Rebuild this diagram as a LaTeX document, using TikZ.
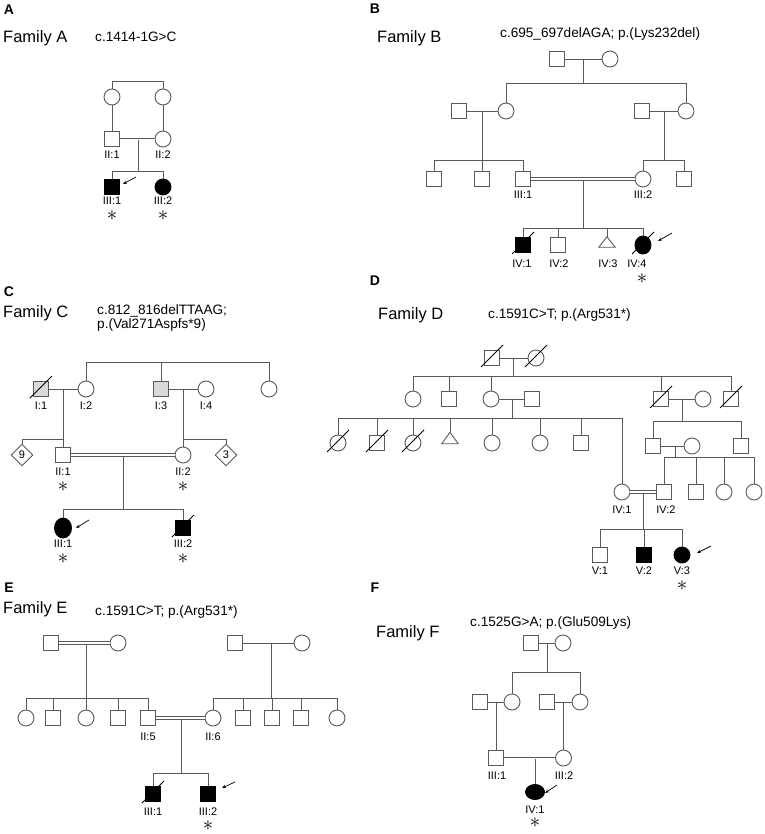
\documentclass[tikz,border=0pt]{standalone}
\usepackage{fontspec}
\setmainfont{Liberation Sans}
\usetikzlibrary{arrows.meta,shapes.geometric}
\definecolor{lc}{gray}{0.35}
\definecolor{gf}{gray}{0.85}
\newcommand{\famfont}{\fontsize{16.5}{18}\selectfont}
\newcommand{\mutfont}{\fontsize{13.6}{15}\selectfont}
\newcommand{\labfont}{\fontsize{11}{12}\selectfont}
\newcommand{\plfont}{\fontsize{14}{15}\selectfont\bfseries}
\newcommand{\astfont}{\fontsize{20}{20}\selectfont}
\newcommand{\sib}[3]{\draw[ln] (#2.north) -- (#2.north |- #1) -- (#3.north |- #1) -- (#3.north);}
\newcommand{\drp}[2]{\draw[ln] (#2.north) -- (#2.north |- #1);}
\newcommand{\dead}[1]{\draw[dl] ([shift={(-11,9)}]#1.center) -- ([shift={(11,-13)}]#1.center);}
\newcommand{\prb}[3]{\draw[arr] ([shift={(#2)}]#1.center) -- ([shift={(#3)}]#1.center);}
\newcommand{\tridraw}[1]{\draw[ln,fill=white] (#1.south west) -- (#1.north) -- (#1.south east) -- cycle;}
\begin{document}
\begin{tikzpicture}[x=1pt,y=-1pt,
  ln/.style={draw=lc, line width=0.9pt},
  dl/.style={draw=black, line width=0.9pt},
  dbl/.style={draw=lc, line width=0.8pt, double=white, double distance=1.8pt},
  dbltwo/.style={draw=lc, line width=0.7pt, double=white, double distance=0.8pt},
  sq/.style={rectangle, draw=lc, line width=0.9pt, minimum size=15pt, inner sep=0pt, fill=white},
  ci/.style={circle, draw=lc, line width=0.9pt, minimum size=16pt, inner sep=0pt, fill=white},
  el/.style={ellipse, draw=lc, line width=0.9pt, inner sep=0pt, fill=white},
  af/.style={fill=black, draw=black},
  tri/.style={rectangle, minimum width=16pt, minimum height=10pt, inner sep=0pt},
  dia/.style={diamond, draw=lc, line width=0.9pt, minimum size=22pt, inner sep=0pt, fill=white, font=\labfont},
  lab/.style={font=\labfont, inner sep=0pt, text height=7.9pt, text depth=0pt},
  ast/.style={font=\astfont, inner sep=0pt},
  fam/.style={font=\famfont, anchor=base west, inner sep=0pt},
  mut/.style={font=\mutfont, anchor=base west, inner sep=0pt},
  pl/.style={font=\plfont, inner sep=0pt},
  arr/.style={draw=black, line width=0.7pt, -{Stealth[length=4pt,width=3pt]}}
]
\useasboundingbox (0,0) rectangle (764,834);

% ================= Family A =================
\node[pl] (pA) at (9,10) {A};
\node[fam] (tA) at (3,43) {Family A};
\node[mut] (mA) at (95,42) {c.1414-1G>C};
\node[ci] (a1) at (112,97) {};
\node[ci] (a2) at (163,97) {};
\node[sq] (a3) at (112,139) {};
\node[ci] (a4) at (163,139) {};
\node[sq,af] (a5) at (112,187) {};
\node[ci,af] (a6) at (163,187) {};
\coordinate (aJ0) at (137,81);
\coordinate (aM1) at (138,139);
\coordinate (aJ1) at (138,171);
\sib{aJ0}{a1}{a2}
\draw[ln] (a1) -- (a3);
\draw[ln] (a2) -- (a4);
\draw[ln] (aM1) -- (aJ1);
\sib{aJ1}{a5}{a6}
\draw[dbltwo] (a3) -- (a4);
\prb{a5}{24,-10}{11,-3}
\node[lab] (la3) at (112,155) {II:1};
\node[lab] (la4) at (163,155) {II:2};
\node[lab] (la5) at (112,201) {III:1};
\node[lab] (la6) at (163,201) {III:2};
\node[ast] (sa5) at (112,216) {$\ast$};
\node[ast] (sa6) at (163,216) {$\ast$};

% ================= Family B =================
\node[pl] (pB) at (375,9) {B};
\node[fam] (tB) at (377,43) {Family B};
\node[mut] (mB) at (500,38) {c.695\_697delAGA; p.(Lys232del)};
\node[sq] (b1) at (557,59) {};
\node[ci] (b2) at (610,59) {};
\node[sq] (b3) at (459,111) {};
\node[ci] (b4) at (506,111) {};
\node[sq] (b5) at (642,111) {};
\node[ci] (b6) at (686,111) {};
\node[sq] (b7) at (434,179) {};
\node[sq] (b8) at (482,179) {};
\node[sq] (b9) at (523,179) {};
\node[ci] (b10) at (643,179) {};
\node[sq] (b11) at (684,179) {};
\node[sq,af] (b12) at (523,245) {};
\node[sq] (b13) at (558,245) {};
\node[tri] (b14) at (607,242) {};
\node[el,af,minimum width=16pt,minimum height=18pt] (b15) at (643,245) {};
\coordinate (bM0) at (583,59);  \coordinate (bJ0) at (583,83);
\coordinate (bM1) at (482,111); \coordinate (bJ1) at (482,160);
\coordinate (bM2) at (664,111); \coordinate (bJ2) at (664,160);
\coordinate (bM3) at (583,179); \coordinate (bJ3) at (583,228);
\draw[ln] (b1) -- (b2); \draw[ln] (bM0) -- (bJ0); \sib{bJ0}{b4}{b6}
\draw[ln] (b3) -- (b4); \draw[ln] (bM1) -- (bJ1); \sib{bJ1}{b7}{b9} \drp{bJ1}{b8}
\draw[ln] (b5) -- (b6); \draw[ln] (bM2) -- (bJ2); \sib{bJ2}{b10}{b11}
\draw[ln] (bM3) -- (bJ3); \draw[dbl] (b9) -- (b10);
\sib{bJ3}{b12}{b15} \drp{bJ3}{b13} \drp{bJ3}{b14}
\tridraw{b14}
\dead{b12} \dead{b15}
\prb{b15}{29,-12}{15,-4}
\node[lab] (lb9) at (523,195) {III:1};
\node[lab] (lb10) at (643,195) {III:2};
\node[lab] (lb12) at (522,264) {IV:1};
\node[lab] (lb13) at (559,264) {IV:2};
\node[lab] (lb14) at (608,264) {IV:3};
\node[lab] (lb15) at (637,264) {IV:4};
\node[ast] (sb15) at (642,279) {$\ast$};

% ================= Family C =================
\node[pl] (pC) at (9,292) {C};
\node[fam] (tC) at (3,317) {Family C};
\node[mut] (mC1) at (97,314) {c.812\_816delTTAAG;};
\node[mut] (mC2) at (97,328) {p.(Val271Aspfs*9)};
\node[sq,fill=gf] (c1) at (41,389) {};
\node[ci] (c2) at (86,389) {};
\node[sq,fill=gf] (c3) at (161,389) {};
\node[ci] (c4) at (206,389) {};
\node[ci] (c5) at (269,389) {};
\node[dia] (c6) at (22,455) {9};
\node[sq] (c7) at (63,455) {};
\node[ci] (c8) at (183,455) {};
\node[dia] (c9) at (226,455) {3};
\node[el,af,minimum width=17pt,minimum height=20pt] (c10) at (63,528) {};
\node[sq,af] (c11) at (183,528) {};
\coordinate (cJ0) at (161,362);
\coordinate (cM1) at (63,389);  \coordinate (cJ1) at (63,439);
\coordinate (cM2) at (183,389); \coordinate (cJ2) at (183,439);
\coordinate (cM3) at (123,455); \coordinate (cJ3) at (123,509);
\sib{cJ0}{c2}{c5} \drp{cJ0}{c3}
\draw[ln] (c1) -- (c2); \draw[ln] (cM1) -- (cJ1); \sib{cJ1}{c6}{c7}
\draw[ln] (c3) -- (c4); \draw[ln] (cM2) -- (cJ2); \sib{cJ2}{c8}{c9}
\draw[ln] (cM3) -- (cJ3); \draw[dbl] (c7) -- (c8); \sib{cJ3}{c10}{c11}
\dead{c1} \dead{c11}
\prb{c10}{26,-8}{13,0}
\node[lab] (lc1) at (41,406) {I:1};
\node[lab] (lc2) at (86,406) {I:2};
\node[lab] (lc3) at (161,406) {I:3};
\node[lab] (lc4) at (206,406) {I:4};
\node[lab] (lc7) at (63,472) {II:1};
\node[lab] (lc8) at (183,472) {II:2};
\node[ast] (sc7) at (63,487) {$\ast$};
\node[ast] (sc8) at (183,487) {$\ast$};
\node[lab] (lc10) at (63,544) {III:1};
\node[lab] (lc11) at (183,544) {III:2};
\node[ast] (sc10) at (63,559) {$\ast$};
\node[ast] (sc11) at (183,559) {$\ast$};

% ================= Family D =================
\node[pl] (pD) at (375,281) {D};
\node[fam] (tD) at (378,319) {Family D};
\node[mut] (mD) at (488,318) {c.1591C>T; p.(Arg531*)};
\node[sq] (d1) at (492,358) {};
\node[ci] (d2) at (536,358) {};
\node[ci] (d3) at (413,399) {};
\node[sq] (d4) at (449,399) {};
\node[ci] (d5) at (491,399) {};
\node[sq] (d6) at (532,399) {};
\node[sq] (d7) at (661,399) {};
\node[ci] (d8) at (703,399) {};
\node[sq] (d9) at (731,399) {};
\node[ci] (d10) at (338,443) {};
\node[sq] (d11) at (377,443) {};
\node[ci] (d12) at (413,443) {};
\node[tri,minimum height=11pt] (d13) at (450,438) {};
\node[ci] (d14) at (492,443) {};
\node[ci] (d15) at (540,443) {};
\node[sq] (d16) at (581,443) {};
\node[ci] (d17) at (622,492) {};
\node[sq] (d18) at (653,446) {};
\node[ci] (d19) at (692,446) {};
\node[sq] (d20) at (741,446) {};
\node[sq] (d21) at (664,492) {};
\node[sq] (d22) at (696,492) {};
\node[ci] (d23) at (724,492) {};
\node[ci] (d24) at (754,492) {};
\node[sq] (d25) at (600,555) {};
\node[sq,af] (d26) at (644,555) {};
\node[ci,af] (d27) at (682,555) {};
\coordinate (dM0) at (513,358); \coordinate (dJ0) at (513,376);
\coordinate (dM1) at (512,399); \coordinate (dJ1) at (512,418);
\coordinate (dM2) at (682,399); \coordinate (dJ2) at (682,421);
\coordinate (dM3) at (675,446); \coordinate (dJ3) at (675,457);
\coordinate (dM4) at (643,492); \coordinate (dJ4) at (643,529);
\draw[ln] (d1) -- (d2); \draw[ln] (dM0) -- (dJ0);
\sib{dJ0}{d3}{d9} \drp{dJ0}{d4} \drp{dJ0}{d5} \drp{dJ0}{d7}
\draw[ln] (d5) -- (d6); \draw[ln] (dM1) -- (dJ1);
\sib{dJ1}{d10}{d17} \drp{dJ1}{d11} \drp{dJ1}{d12} \drp{dJ1}{d13} \drp{dJ1}{d14} \drp{dJ1}{d15} \drp{dJ1}{d16}
\draw[ln] (d7) -- (d8); \draw[ln] (dM2) -- (dJ2);
\sib{dJ2}{d18}{d20}
\draw[ln] (d18) -- (d19); \draw[ln] (dM3) -- (dJ3);
\sib{dJ3}{d21}{d24} \drp{dJ3}{d22} \drp{dJ3}{d23}
\draw[ln] (dM4) -- (dJ4); \draw[dbl] (d17) -- (d21);
\sib{dJ4}{d25}{d27} \drp{dJ4}{d26}
\tridraw{d13}
\dead{d1} \dead{d2} \dead{d7} \dead{d9} \dead{d10} \dead{d11} \dead{d12}
\prb{d27}{29,-9}{15,-2}
\node[lab] (ld17) at (622,510) {IV:1};
\node[lab] (ld21) at (666,510) {IV:2};
\node[lab] (ld25) at (600,571) {V:1};
\node[lab] (ld26) at (644,571) {V:2};
\node[lab] (ld27) at (682,571) {V:3};
\node[ast] (sd27) at (682,586) {$\ast$};

% ================= Family E =================
\node[pl] (pE) at (9,588) {E};
\node[fam] (tE) at (3,613) {Family E};
\node[mut] (mE) at (95,615) {c.1591C>T; p.(Arg531*)};
\node[sq] (e1) at (51,643) {};
\node[ci] (e2) at (118,643) {};
\node[ci] (e3) at (26,718) {};
\node[sq] (e4) at (53,718) {};
\node[ci] (e5) at (86,718) {};
\node[sq] (e6) at (118,718) {};
\node[sq] (e7) at (148,718) {};
\node[sq] (e8) at (235,643) {};
\node[ci] (e9) at (302,643) {};
\node[ci] (e10) at (213,718) {};
\node[sq] (e11) at (243,718) {};
\node[sq] (e12) at (272,718) {};
\node[sq] (e13) at (301,718) {};
\node[ci] (e14) at (337,718) {};
\node[sq,af] (e15) at (153,794) {};
\node[sq,af] (e16) at (208,794) {};
\coordinate (eM0) at (86,643);  \coordinate (eJ0) at (86,698);
\coordinate (eM1) at (271,643); \coordinate (eJ1) at (271,698);
\coordinate (eM2) at (181,718); \coordinate (eJ2) at (181,773);
\draw[ln] (eM0) -- (eJ0); \draw[dbl] (e1) -- (e2);
\sib{eJ0}{e3}{e7} \drp{eJ0}{e4} \drp{eJ0}{e5} \drp{eJ0}{e6}
\draw[ln] (e8) -- (e9); \draw[ln] (eM1) -- (eJ1);
\sib{eJ1}{e10}{e14} \drp{eJ1}{e11} \drp{eJ1}{e12} \drp{eJ1}{e13}
\draw[ln] (eM2) -- (eJ2); \draw[dbl] (e7) -- (e10);
\sib{eJ2}{e15}{e16}
\dead{e15}
\prb{e16}{27,-12}{14,-6}
\node[lab] (le7) at (148,737) {II:5};
\node[lab] (le10) at (213,737) {II:6};
\node[lab] (le15) at (153,812) {III:1};
\node[lab] (le16) at (208,812) {III:2};
\node[ast] (se16) at (208,826) {$\ast$};

% ================= Family F =================
\node[pl] (pF) at (375,588) {F};
\node[fam] (tF) at (376,637) {Family F};
\node[mut] (mF) at (470,626) {c.1525G>A; p.(Glu509Lys)};
\node[sq] (f1) at (531,643) {};
\node[ci] (f2) at (563,643) {};
\node[sq] (f3) at (480,702) {};
\node[ci] (f4) at (512,702) {};
\node[sq] (f5) at (547,702) {};
\node[ci] (f6) at (580,702) {};
\node[sq] (f7) at (496,758) {};
\node[ci] (f8) at (563.5,758) {};
\node[el,af,minimum width=19pt,minimum height=15pt] (f9) at (535,792) {};
\coordinate (fM0) at (547,643); \coordinate (fJ0) at (547,672);
\coordinate (fM1) at (496,702);
\coordinate (fM2) at (563.5,702);
\coordinate (fM3) at (535,758);
\draw[ln] (f1) -- (f2); \draw[ln] (fM0) -- (fJ0); \sib{fJ0}{f4}{f6}
\draw[ln] (f3) -- (f4); \draw[ln] (f5) -- (f6);
\draw[ln] (fM1) -- (f7); \draw[ln] (fM2) -- (f8);
\draw[ln] (fM3) -- (f9); \draw[dbltwo] (f7) -- (f8);
\prb{f9}{22,-7}{10,1}
\node[lab] (lf7) at (497,776) {III:1};
\node[lab] (lf8) at (564,776) {III:2};
\node[lab] (lf9) at (535,810) {IV:1};
\node[ast] (sf9) at (535,823) {$\ast$};
\end{tikzpicture}
\end{document}
